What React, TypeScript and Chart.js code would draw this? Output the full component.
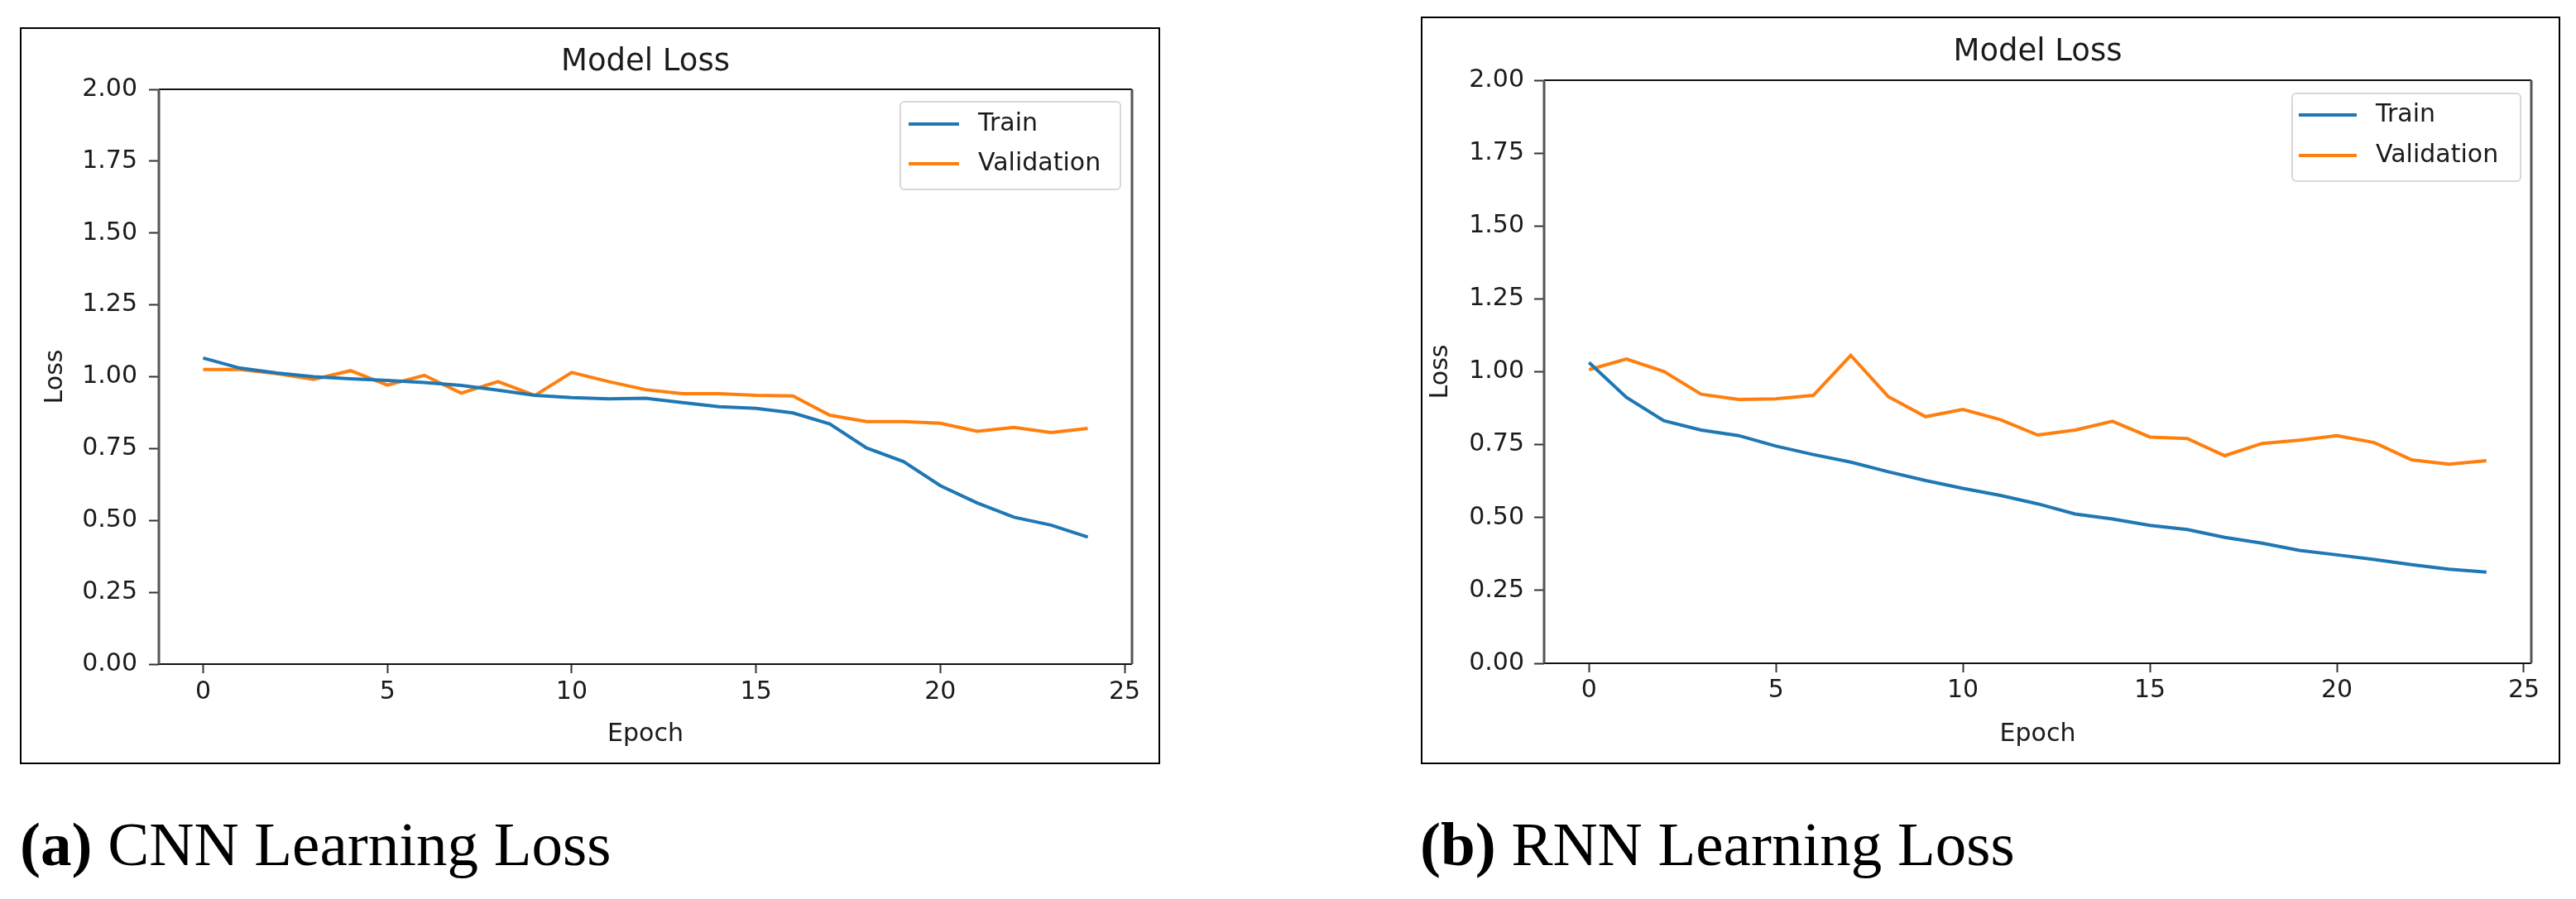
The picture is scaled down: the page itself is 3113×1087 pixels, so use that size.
import React, { useEffect, useRef } from "react";
import { Chart, registerables } from "chart.js";

Chart.register(...registerables);

// ---------------- data ----------------
const epochs = [0, 1, 2, 3, 4, 5, 6, 7, 8, 9, 10, 11, 12, 13, 14, 15, 16, 17, 18, 19, 20, 21, 22, 23, 24];

const cnnTrain = [1.065, 1.03, 1.013, 1.0, 0.993, 0.987, 0.98, 0.97, 0.953, 0.935, 0.927, 0.923, 0.925, 0.91, 0.896, 0.89, 0.874, 0.836, 0.752, 0.705, 0.621, 0.561, 0.511, 0.484, 0.442];
const cnnVal = [1.025, 1.025, 1.011, 0.991, 1.021, 0.971, 1.005, 0.943, 0.983, 0.935, 1.015, 0.983, 0.955, 0.941, 0.941, 0.935, 0.933, 0.866, 0.844, 0.844, 0.838, 0.81, 0.824, 0.806, 0.82];

const rnnTrain = [1.032, 0.912, 0.832, 0.8, 0.781, 0.745, 0.716, 0.69, 0.657, 0.627, 0.6, 0.576, 0.547, 0.512, 0.495, 0.473, 0.459, 0.432, 0.412, 0.387, 0.372, 0.356, 0.338, 0.323, 0.313];
const rnnVal = [1.007, 1.044, 1.001, 0.923, 0.905, 0.907, 0.919, 1.056, 0.915, 0.846, 0.871, 0.836, 0.783, 0.8, 0.83, 0.776, 0.771, 0.712, 0.754, 0.765, 0.781, 0.757, 0.698, 0.683, 0.695];

const xTicks = [0, 5, 10, 15, 20, 25];
const yTicks = [0, 0.25, 0.5, 0.75, 1.0, 1.25, 1.5, 1.75, 2.0];
const xRange = [-1.2, 25.2];
const yRange = [0, 2];
const seriesLabels = ["Train", "Validation"];
const seriesColors = ["#1f77b4", "#ff7f0e"];
const chartTitle = "Model Loss";
const xTitle = "Epoch";
const yTitle = "Loss";
const captionTags = ["(a)", "(b)"];
const captionTexts = ["CNN Learning Loss", "RNN Learning Loss"];

// ---------------- layout ----------------
const FONT = '"DejaVu Sans", "Liberation Sans", sans-serif';
const TEXT = "#1a1a1a";

type Layout = {
  frame: { x: number; y: number; w: number; h: number };
  chartTop: number;
  rightPad: number;
  yAxisW: number;
  xAxisH: number;
  yTickPad: number;
  xTickPad: number;
  yTitlePad: number;
  xTitlePad: number;
  titleY: number;
  legend: { rightGap: number; topGap: number; w: number; h: number; lineStart: number; lineLen: number; textX: number; row1: number; rowGap: number };
  caption: { x: number; y: number };
};

const leftLayout: Layout = {
  frame: { x: 24, y: 33, w: 1378, h: 891 },
  chartTop: 73,
  rightPad: 32,
  yAxisW: 166,
  xAxisH: 119,
  yTickPad: 14,
  xTickPad: 5,
  yTitlePad: 23.5,
  xTitlePad: 16,
  titleY: 40,
  legend: { rightGap: 14, topGap: 15, w: 266, h: 106, lineStart: 10, lineLen: 61, textX: 94, row1: 27, rowGap: 48 },
  caption: { x: 24, y: 983 },
};

const rightLayout: Layout = {
  frame: { x: 1717, y: 20, w: 1377, h: 904 },
  chartTop: 75,
  rightPad: 33,
  yAxisW: 147,
  xAxisH: 120,
  yTickPad: 12,
  xTickPad: 4,
  yTitlePad: 4.5,
  xTitlePad: 16,
  titleY: 41,
  legend: { rightGap: 13, topGap: 16, w: 276, h: 106, lineStart: 8, lineLen: 70, textX: 101, row1: 26, rowGap: 49 },
  caption: { x: 1716, y: 983 },
};

function LossPanel({ train, val, L }: { train: number[]; val: number[]; L: Layout }) {
  const ref = useRef<HTMLCanvasElement>(null);
  const cw = L.frame.w - 4;
  const ch = L.frame.h - 4;

  useEffect(() => {
    if (!ref.current) return;

    const framePlugin = {
      id: "axFrame",
      afterDatasetsDraw(chart: any) {
        const { ctx, chartArea: a } = chart;
        ctx.save();
        ctx.strokeStyle = "#111";
        ctx.lineWidth = 2;
        ctx.beginPath();
        ctx.moveTo(a.left, a.top);
        ctx.lineTo(a.right, a.top);
        ctx.moveTo(a.left, a.bottom);
        ctx.lineTo(a.right, a.bottom);
        ctx.stroke();
        ctx.strokeStyle = "#555";
        ctx.lineWidth = 3;
        ctx.beginPath();
        ctx.moveTo(a.left, a.top);
        ctx.lineTo(a.left, a.bottom);
        ctx.moveTo(a.right, a.top);
        ctx.lineTo(a.right, a.bottom);
        ctx.stroke();
        ctx.restore();
      },
    };

    const titlePlugin = {
      id: "axTitle",
      afterDraw(chart: any) {
        const { ctx, chartArea: a } = chart;
        ctx.save();
        ctx.font = `37px ${FONT}`;
        ctx.fillStyle = TEXT;
        ctx.textAlign = "center";
        ctx.textBaseline = "middle";
        ctx.fillText(chartTitle, (a.left + a.right) / 2, L.titleY);
        ctx.restore();
      },
    };

    const legendPlugin = {
      id: "axLegend",
      afterDraw(chart: any) {
        const { ctx, chartArea: a } = chart;
        const g = L.legend;
        const bx = a.right - g.rightGap - g.w;
        const by = a.top + g.topGap;
        ctx.save();
        ctx.fillStyle = "rgba(255,255,255,0.85)";
        ctx.strokeStyle = "#d8d8d8";
        ctx.lineWidth = 2;
        ctx.beginPath();
        (ctx as any).roundRect(bx, by, g.w, g.h, 5);
        ctx.fill();
        ctx.stroke();
        chart.data.datasets.forEach((ds: any, i: number) => {
          const y = by + g.row1 + i * g.rowGap;
          ctx.strokeStyle = ds.borderColor;
          ctx.lineWidth = 4;
          ctx.beginPath();
          ctx.moveTo(bx + g.lineStart, y);
          ctx.lineTo(bx + g.lineStart + g.lineLen, y);
          ctx.stroke();
          ctx.font = `30px ${FONT}`;
          ctx.fillStyle = TEXT;
          ctx.textAlign = "left";
          ctx.textBaseline = "middle";
          ctx.fillText(ds.label, bx + g.textX, y);
        });
        ctx.restore();
      },
    };

    const tickFont = { family: FONT, size: 30 };

    const chart = new Chart(ref.current, {
      type: "line",
      data: {
        datasets: [
          {
            label: seriesLabels[0],
            data: epochs.map((e, i) => ({ x: e, y: train[i] })),
            borderColor: seriesColors[0],
            backgroundColor: seriesColors[0],
            borderWidth: 4,
            pointRadius: 0,
            tension: 0,
            fill: false,
          },
          {
            label: seriesLabels[1],
            data: epochs.map((e, i) => ({ x: e, y: val[i] })),
            borderColor: seriesColors[1],
            backgroundColor: seriesColors[1],
            borderWidth: 4,
            pointRadius: 0,
            tension: 0,
            fill: false,
          },
        ],
      },
      options: {
        animation: false,
        responsive: false,
        devicePixelRatio: 1,
        layout: { padding: { top: L.chartTop, right: L.rightPad, left: 0, bottom: 0 } },
        plugins: {
          legend: { display: false },
          title: { display: false },
          tooltip: { enabled: false },
        },
        scales: {
          x: {
            type: "linear",
            min: xRange[0],
            max: xRange[1],
            afterBuildTicks: (s: any) => {
              s.ticks = xTicks.map((v) => ({ value: v }));
            },
            afterFit: (s: any) => {
              s.height = L.xAxisH;
            },
            grid: { drawOnChartArea: false, drawTicks: true, tickLength: 11, tickWidth: 2, tickColor: "#333" },
            border: { display: false },
            ticks: {
              padding: L.xTickPad,
              color: TEXT,
              font: tickFont,
              maxRotation: 0,
              autoSkip: false,
              callback: (v: any) => String(v),
            },
            title: { display: true, text: xTitle, color: TEXT, font: tickFont, padding: { top: 0, bottom: L.xTitlePad } },
          },
          y: {
            type: "linear",
            min: yRange[0],
            max: yRange[1],
            afterBuildTicks: (s: any) => {
              s.ticks = yTicks.map((v) => ({ value: v }));
            },
            afterFit: (s: any) => {
              s.width = L.yAxisW;
            },
            grid: { drawOnChartArea: false, drawTicks: true, tickLength: 12, tickWidth: 2, tickColor: "#333" },
            border: { display: false },
            ticks: {
              padding: L.yTickPad,
              color: TEXT,
              font: tickFont,
              autoSkip: false,
              callback: (v: any) => Number(v).toFixed(2),
            },
            title: { display: true, text: yTitle, color: TEXT, font: tickFont, padding: { top: L.yTitlePad, bottom: 0 } },
          },
        },
      } as any,
      plugins: [framePlugin, titlePlugin, legendPlugin],
    });
    return () => chart.destroy();
  }, []);

  return (
    <div
      style={{
        position: "absolute",
        left: L.frame.x,
        top: L.frame.y,
        width: L.frame.w,
        height: L.frame.h,
        boxSizing: "border-box",
        border: "2px solid #000",
        background: "#fff",
      }}
    >
      <canvas ref={ref} width={cw} height={ch} style={{ position: "absolute", left: 0, top: 0, width: cw, height: ch, display: "block" }} />
    </div>
  );
}

function Caption({ tag, text, x, y }: { tag: string; text: string; x: number; y: number }) {
  return (
    <div
      style={{
        position: "absolute",
        left: x,
        top: y,
        fontFamily: '"Liberation Serif", "DejaVu Serif", serif',
        fontSize: 75,
        lineHeight: 1,
        whiteSpace: "nowrap",
        color: "#000",
      }}
    >
      <b>{tag}</b> {text}
    </div>
  );
}

export default function App() {
  return (
    <div style={{ position: "absolute", left: 0, top: 0, width: 3113, height: 1087, background: "#fff", overflow: "hidden" }}>
      <LossPanel train={cnnTrain} val={cnnVal} L={leftLayout} />
      <LossPanel train={rnnTrain} val={rnnVal} L={rightLayout} />
      <Caption tag={captionTags[0]} text={captionTexts[0]} x={leftLayout.caption.x} y={leftLayout.caption.y} />
      <Caption tag={captionTags[1]} text={captionTexts[1]} x={rightLayout.caption.x} y={rightLayout.caption.y} />
    </div>
  );
}
